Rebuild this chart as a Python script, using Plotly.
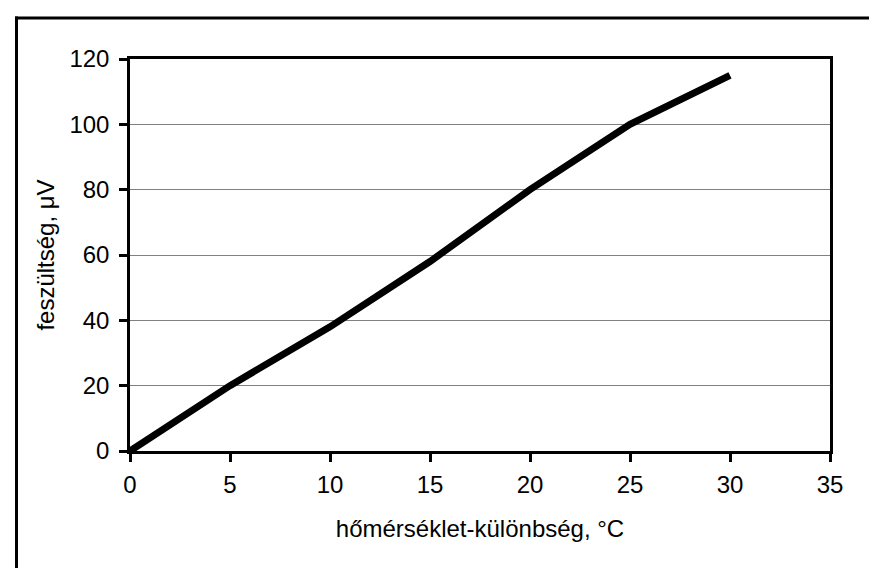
import plotly.graph_objects as go

# data
temp_diff = [0, 5, 10, 15, 20, 25, 30]
voltage = [0, 20, 38, 58, 80, 100, 115]
x_ticks = [0, 5, 10, 15, 20, 25, 30, 35]
y_ticks = [0, 20, 40, 60, 80, 100, 120]
x_title = "hőmérséklet-különbség, °C"
y_title = "feszültség, μV"

W, H = 877, 568
L, R, T, B = 122, 55, 51, 125

fig = go.Figure()
fig.add_trace(go.Scatter(
    x=temp_diff, y=voltage, mode="lines",
    line=dict(color="black", width=7),
    hoverinfo="skip", showlegend=False,
))

font = dict(family="Liberation Sans, Arial, sans-serif", size=24, color="black")

fig.update_layout(
    width=W, height=H,
    margin=dict(l=L, r=R, t=T, b=B),
    paper_bgcolor="white", plot_bgcolor="white",
    font=font,
    xaxis=dict(
        range=[0, 35], tickvals=x_ticks, ticks="outside", ticklen=8, tickwidth=2.5,
        tickcolor="black", showline=True, linecolor="black", linewidth=2.5,
        mirror=True, showgrid=False, zeroline=False, ticklabelstandoff=2,
        title=dict(text=x_title, font=font, standoff=24),
    ),
    yaxis=dict(
        range=[0, 120], tickvals=y_ticks, ticks="outside", ticklen=8, tickwidth=2.5,
        tickcolor="black", showline=True, linecolor="black", linewidth=2.5,
        mirror=True, showgrid=True, gridcolor="#808080", gridwidth=1,
        zeroline=False, ticklabelstandoff=5,
        title=dict(text=y_title, font=font, standoff=9),
    ),
)

pw = W - L - R
ph = H - T - B
def px(xp):
    return (xp - L) / pw
def py(yp):
    return (H - B - yp) / ph

# outer chart frame (top and left edges; cropped at right/bottom)
fig.add_shape(type="line", xref="paper", yref="paper",
              x0=px(7), x1=px(885), y0=py(10), y1=py(10),
              line=dict(color="black", width=3))
fig.add_shape(type="line", xref="paper", yref="paper",
              x0=px(8.5), x1=px(8.5), y0=py(8.5), y1=py(575),
              line=dict(color="black", width=3))

fig.write_html("out.html")
